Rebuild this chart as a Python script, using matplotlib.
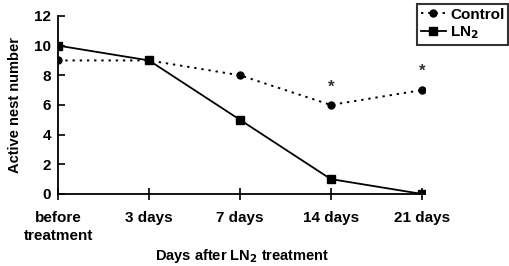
import matplotlib
matplotlib.use("Agg")
import matplotlib.pyplot as plt

categories = ["before\ntreatment", "3 days", "7 days", "14 days", "21 days"]
control = [9, 9, 8, 6, 7]
ln2 = [10, 9, 5, 1, 0]
sig_idx = [3, 4]
sig_y = [7.2, 8.3]

plt.rcParams['font.family'] = ['Liberation Sans', 'DejaVu Sans']
plt.rcParams['font.weight'] = 'bold'

fig = plt.figure(figsize=(5.1, 2.66), dpi=100)
ax = fig.add_axes([0.114, 0.271, 0.72, 0.669])
x = list(range(len(categories)))
ax.plot(x, control, linestyle=(0, (1.2, 2.5)), color='black', lw=1.4, marker='o', ms=5, label='Control')
ax.plot(x, ln2, linestyle='-', color='black', lw=1.3, marker='s', ms=6, label='LN$_2$')
for i, yv in zip(sig_idx, sig_y):
    ax.text(x[i], yv, '*', ha='center', va='center', fontsize=12, color='#333333')

ax.set_xlim(0, 4.04)
ax.set_ylim(0, 12)
ax.set_yticks(range(0, 13, 2))
ax.set_xticks(x)
ax.set_xticklabels(categories, fontsize=11, fontweight='bold', linespacing=1.4)
ax.tick_params(axis='y', direction='in', length=5, labelsize=11, width=1.2, pad=5)
ax.tick_params(axis='x', direction='inout', length=8, width=1.2, pad=8)
for s in ['top', 'right']:
    ax.spines[s].set_visible(False)
for s in ['left', 'bottom']:
    ax.spines[s].set_linewidth(1.3)
ax.set_ylabel('Active nest number', fontsize=10.5, fontweight='bold', labelpad=9)
ax.set_xlabel('Days after LN$_2$ treatment', fontsize=10.5, fontweight='bold', labelpad=3)
leg = ax.legend(loc='upper right', bbox_to_anchor=(0.997, 0.985), bbox_transform=fig.transFigure,
                frameon=True, fancybox=False, edgecolor='black', fontsize=11,
                handlelength=1.6, borderpad=0.25, labelspacing=0.15, handletextpad=0.3, borderaxespad=0)
leg.get_frame().set_linewidth(1.5)
fig.savefig('out.png', dpi=100)
